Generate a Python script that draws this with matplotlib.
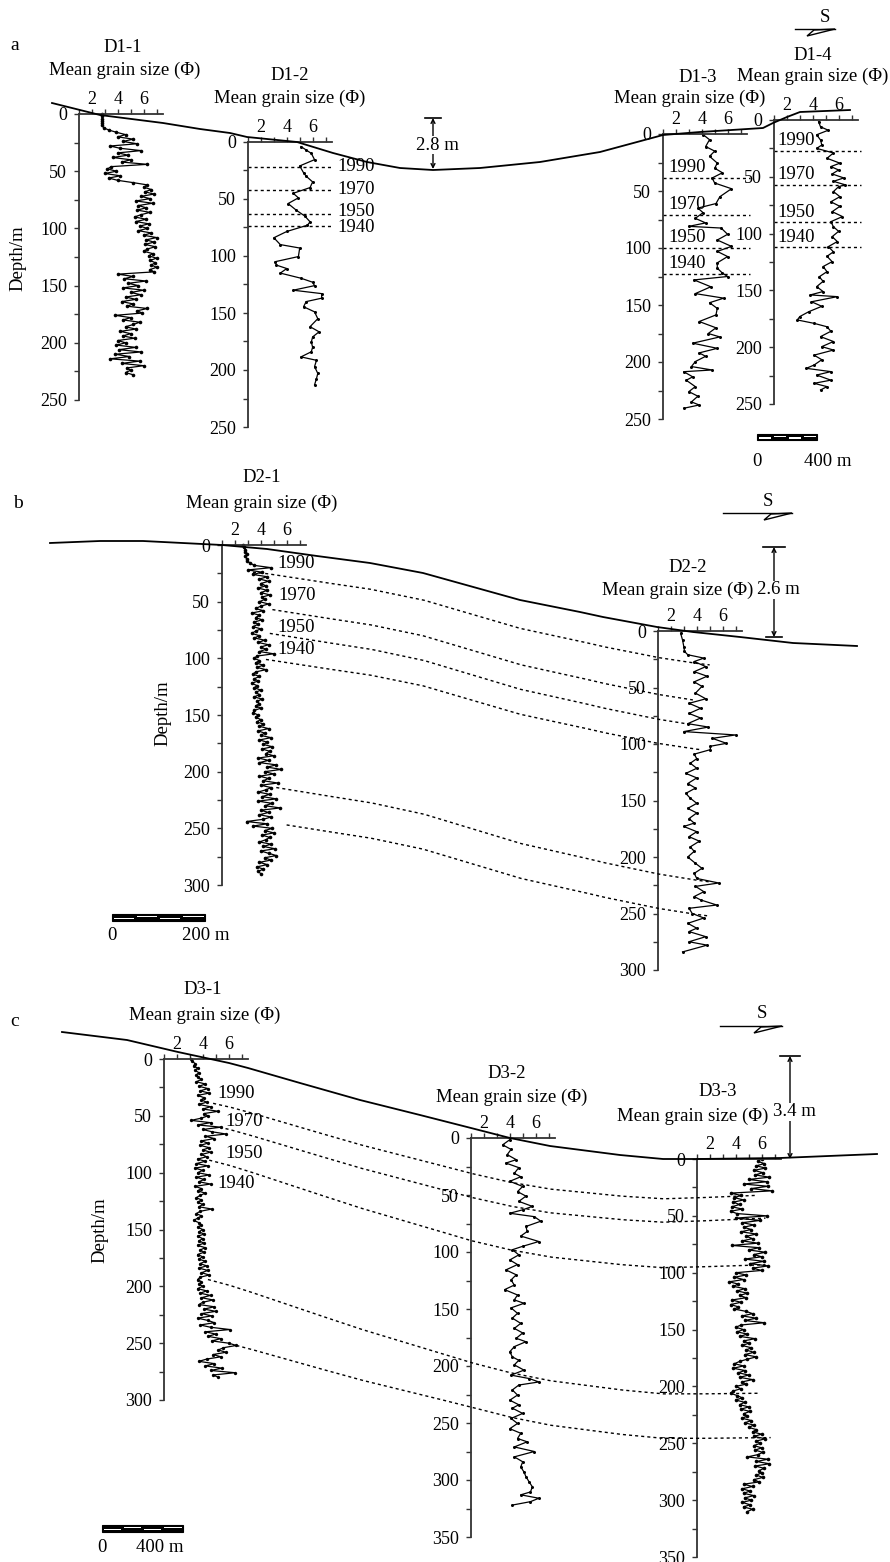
import numpy as np
import matplotlib
matplotlib.use("Agg")
from matplotlib import pyplot as plt
from matplotlib.ticker import MultipleLocator
from matplotlib.patches import Rectangle, Polygon

plt.rcParams['font.family'] = ['Liberation Serif', 'DejaVu Serif']

W, H = 890, 1562
STEP = 2  # sampling interval of the dense cores (depth units)

## mean grain size (phi) of the dense cores, one value every STEP from the top
d1_1_phi = [2.8, 2.8, 2.8, 2.8, 2.8, 2.8, 2.9, 3.3, 3.9, 4.6,
            4.0, 5.2, 4.4, 5.5, 3.4, 4.2, 5.8, 4.0, 4.8, 3.6,
            5.0, 4.3, 6.3, 3.5, 3.2, 3.9, 3.0, 4.2, 3.3, 4.0,
            5.2, 6.3, 6.0, 6.6, 6.1, 6.8, 5.8, 6.5, 5.4, 6.7,
            5.6, 6.2, 5.5, 6.5, 5.8, 5.3, 6.2, 5.4, 6.4, 5.7,
            6.3, 5.6, 6.6, 6.0, 7.0, 6.2, 6.8, 6.1, 6.9, 6.3,
            6.0, 6.7, 6.4, 7.0, 6.5, 6.9, 6.6, 7.0, 6.5, 6.8,
            4.0, 5.2, 4.5, 6.2, 4.8, 5.6, 4.4, 6.0, 5.0, 5.8,
            4.6, 5.4, 4.3, 5.2, 4.7, 6.3, 5.5, 5.9, 3.8, 5.0,
            4.4, 5.7, 5.2, 4.6, 5.4, 4.2, 5.0, 4.4, 5.3, 4.0,
            4.6, 3.9, 5.4, 4.1, 5.8, 3.8, 4.9, 3.4, 5.7, 4.3,
            6.0, 4.7, 5.0, 4.6, 5.2]

d2_1_phi = [2.6, 2.7, 2.8, 2.8, 2.9, 2.8, 2.9, 2.9, 3.2, 3.5,
            4.8, 3.0, 4.1, 3.4, 4.5, 3.9, 4.6, 4.0, 4.4, 3.8,
            4.5, 4.0, 4.7, 4.1, 4.3, 3.9, 4.6, 4.0, 3.6, 4.2,
            3.3, 3.9, 3.6, 4.1, 3.5, 3.8, 3.4, 4.0, 3.6, 3.3,
            3.9, 3.5, 4.3, 3.8, 4.6, 4.0, 4.4, 3.9, 5.0, 3.7,
            3.5, 3.9, 3.6, 4.2, 3.7, 4.4, 3.6, 3.4, 3.9, 3.5,
            3.8, 3.3, 3.7, 3.5, 4.0, 3.6, 3.9, 3.5, 4.1, 3.7,
            3.9, 3.6, 4.0, 3.5, 3.4, 3.8, 3.6, 4.0, 3.7, 4.2,
            3.9, 4.6, 3.8, 4.3, 4.0, 4.8, 3.9, 4.5, 4.2, 4.9,
            4.1, 4.7, 4.4, 5.0, 3.8, 4.6, 3.9, 5.2, 4.5, 5.6,
            4.3, 5.0, 3.9, 4.6, 4.2, 5.3, 4.0, 4.8, 4.4, 3.8,
            4.7, 4.1, 5.2, 3.8, 4.9, 4.3, 5.5, 4.0, 4.6, 3.9,
            4.8, 4.2, 2.9, 4.5, 3.4, 4.9, 4.3, 5.0, 4.1, 4.7,
            4.4, 3.9, 4.8, 4.2, 5.1, 4.0, 4.6, 5.2, 4.3, 4.8,
            3.9, 4.5, 3.7, 4.2, 3.8, 4.0]

d3_1_phi = [3.1, 3.2, 3.4, 3.3, 3.6, 3.4, 3.7, 3.5, 3.6, 3.9,
            3.5, 4.2, 3.7, 4.4, 3.8, 4.5, 3.6, 4.1, 3.9, 4.3,
            3.7, 4.6, 4.0, 5.2, 4.1, 4.4, 3.9, 3.1, 4.6, 3.6,
            5.4, 4.0, 4.7, 5.8, 4.2, 4.9, 3.9, 4.4, 3.8, 4.5,
            4.0, 4.6, 3.9, 4.3, 3.6, 4.2, 3.5, 4.4, 3.4, 4.0,
            3.6, 4.5, 3.5, 4.1, 3.7, 4.6, 3.4, 3.9, 3.6, 4.2,
            3.8, 3.5, 3.9, 3.6, 4.0, 3.7, 4.7, 3.8, 3.5, 3.9,
            3.6, 3.3, 3.7, 3.9, 3.6, 4.0, 3.7, 4.1, 3.6, 4.0,
            3.7, 4.1, 3.6, 4.2, 3.8, 4.1, 3.6, 4.0, 3.7, 4.2,
            3.8, 4.3, 3.7, 4.4, 3.9, 4.5, 3.8, 3.6, 3.9, 3.7,
            4.0, 3.6, 4.3, 3.8, 4.6, 3.9, 4.8, 4.0, 3.7, 4.9,
            4.1, 5.0, 3.9, 4.7, 3.6, 4.4, 4.9, 3.8, 4.6, 6.1,
            4.2, 5.0, 4.4, 5.4, 4.7, 6.0, 6.6, 5.6, 5.2, 5.8,
            4.8, 5.4, 4.3, 3.7, 4.9, 4.2, 5.5, 4.6, 6.5, 4.8,
            5.2]

d3_3_phi = [6.0, 5.7, 6.2, 5.6, 6.3, 5.4, 6.1, 5.5, 6.6, 5.0,
            6.4, 4.6, 6.5, 5.2, 6.8, 3.6, 4.4, 3.9, 4.6, 3.8,
            4.3, 3.7, 4.5, 3.6, 4.1, 6.4, 4.0, 5.9, 4.5, 5.4,
            4.6, 5.2, 4.4, 5.6, 4.8, 5.3, 4.5, 5.7, 3.7, 5.8,
            5.0, 6.3, 5.4, 6.0, 4.7, 6.2, 5.1, 6.5, 5.3, 6.0,
            4.0, 4.8, 3.9, 4.6, 3.5, 4.2, 3.8, 4.7, 4.1, 4.9,
            4.3, 4.8, 3.7, 4.4, 3.6, 4.2, 3.9, 4.8, 5.3, 4.5,
            5.6, 4.7, 6.2, 4.4, 4.0, 4.6, 4.1, 4.9, 4.3, 5.5,
            4.6, 5.0, 4.5, 5.2, 4.8, 5.4, 4.7, 5.6, 4.9, 4.3,
            3.9, 4.6, 3.8, 4.7, 4.2, 5.0, 4.3, 5.3, 4.5, 4.8,
            4.0, 4.4, 3.8, 3.6, 4.1, 4.5, 4.0, 4.7, 4.3, 5.0,
            4.4, 5.1, 4.6, 4.9, 4.5, 5.2, 4.7, 5.4, 5.0, 5.6,
            5.3, 6.0, 5.4, 6.3, 5.6, 5.9, 5.4, 6.0, 5.5, 6.1,
            5.7, 4.9, 6.5, 5.6, 6.6, 5.5, 6.2, 5.8, 6.0, 5.6,
            6.1, 5.4, 5.8, 4.6, 5.3, 4.5, 5.1, 4.6, 5.4, 4.7,
            5.2, 4.5, 5.1, 4.6, 5.3, 4.9]

## sparse cores: depth and mean grain size (phi)
d1_2_depth = [4, 7, 10, 15.5, 21, 27, 30, 35, 40, 45, 49, 54, 59.5, 65, 70, 73,
              78.5, 84, 90, 93, 100.5, 105, 108, 111, 115, 119.5, 123, 126, 130,
              133, 137, 140, 144.5, 149, 155, 162, 166.5, 171, 175.5, 180, 184,
              188.5, 191.5, 197, 203, 207.5, 213]
d1_2_phi = [5.1, 5.5, 5.9, 6.15, 5.0, 5.3, 5.5, 6.0, 5.8, 4.5, 4.9, 4.1, 4.7, 5.4,
            5.8, 5.6, 4.0, 3.0, 3.5, 5.0, 4.9, 3.1, 3.2, 4.0, 3.5, 5.1, 6.0, 6.15,
            4.5, 6.7, 6.7, 5.5, 5.3, 6.15, 6.4, 5.8, 6.5, 6.0, 5.9, 6.0, 5.9, 5.1,
            6.3, 6.15, 6.4, 6.3, 6.15]

d1_3_depth = [0.5, 5, 11, 15, 19.6, 25.5, 30, 34, 38.6, 43, 48, 55, 61, 65, 69, 74,
              78, 81, 82.5, 88, 93, 98.6, 103, 107.5, 113, 117.7, 122, 125, 128,
              134, 140, 144, 148, 153, 158.7, 164.5, 170, 175, 178, 183.5, 188,
              192, 195, 199.6, 204, 207, 208.5, 213, 216, 221.6, 226, 230, 235,
              237.7, 240.6]
d1_3_phi = [4.1, 4.6, 4.3, 5.0, 4.6, 5.2, 5.0, 5.6, 4.8, 5.0, 6.3, 5.4, 5.1, 3.7,
            4.1, 3.5, 4.3, 3.0, 5.5, 6.0, 5.2, 6.3, 5.2, 6.0, 5.2, 5.2, 5.6, 6.0,
            3.4, 4.7, 3.5, 5.7, 4.6, 5.2, 5.1, 3.8, 5.1, 4.5, 5.4, 3.3, 5.2, 3.8,
            4.3, 3.5, 3.2, 4.8, 2.6, 3.3, 2.8, 3.5, 3.0, 3.7, 3.2, 3.8, 2.6]

d1_4_depth = [1.5, 6, 9, 13, 17.6, 22, 25, 29, 33.7, 38, 41, 44, 47.5, 51, 54, 57,
              58.7, 63, 67.5, 72, 76, 80.7, 85, 89.5, 94, 98, 102.7, 107, 111.5,
              116, 120, 124.7, 129, 133.5, 138, 142, 146.7, 151, 154, 155.5, 160,
              164, 168.7, 173, 176, 179, 182, 186, 190.7, 195, 199.5, 202.5, 207,
              211, 215.7, 218.6, 221.5, 224.5, 229, 231.8, 234.7, 237.7]
d1_4_phi = [4.45, 4.6, 5.2, 4.3, 4.6, 4.7, 4.3, 5.6, 5.1, 6.1, 5.4, 6.0, 5.5, 6.4,
            5.6, 6.5, 6.0, 5.6, 6.1, 5.4, 6.1, 5.5, 6.3, 5.4, 5.6, 6.0, 5.5, 5.9,
            5.2, 5.6, 5.1, 5.5, 4.8, 5.1, 4.5, 4.8, 4.3, 4.8, 3.8, 5.9, 3.9, 4.7,
            3.7, 3.0, 2.8, 4.1, 5.1, 5.4, 4.6, 5.6, 4.7, 5.6, 4.1, 4.7, 4.1, 3.5,
            5.4, 4.3, 5.4, 4.1, 5.1, 4.6]

d2_2_depth = [2, 8, 14, 18, 21, 24, 27, 31.5, 36, 40, 45, 49, 55, 60, 64, 68.4, 73,
              77, 82, 85, 89, 92, 95, 99.4, 102, 105, 109, 113, 117, 121.5, 126,
              130, 135, 139, 143.7, 148, 152.5, 157, 161, 166, 170, 173, 177.6,
              182, 186, 191, 195, 200, 205.6, 210, 214.5, 219, 223, 226, 230.7,
              235, 238, 242.5, 245.4, 250, 254, 258.7, 263, 266, 270.5, 275, 278,
              284]
d2_2_phi = [2.75, 2.9, 3.0, 3.05, 3.3, 4.55, 3.8, 4.7, 3.8, 4.8, 3.8, 4.4, 3.9,
            4.7, 3.4, 4.3, 3.4, 4.3, 3.3, 4.9, 3.0, 7.0, 5.2, 6.3, 5.05, 5.05, 3.8,
            4.0, 3.5, 4.0, 3.15, 4.0, 3.3, 3.9, 3.15, 3.5, 4.0, 3.3, 4.0, 3.4, 3.8,
            3.0, 4.0, 3.4, 4.2, 3.5, 3.8, 3.3, 3.9, 4.4, 3.8, 4.0, 5.7, 3.9, 4.55,
            3.8, 4.3, 5.55, 3.4, 3.65, 4.55, 3.3, 4.0, 3.4, 4.7, 3.4, 4.8, 2.9]

d3_2_depth = [1.5, 6, 10, 14.6, 19, 22, 26, 31, 34, 38, 42.5, 47, 51, 55.6, 60, 63,
              66, 69, 73, 77.6, 82, 86, 90.8, 95, 98, 102.5, 107, 111, 115.7, 120,
              124.5, 129, 133, 137.7, 142, 145, 149, 153.8, 158, 162.6, 167, 171,
              175.7, 178.7, 183, 187.5, 192, 195, 199, 203.6, 208, 211, 214, 216.7,
              221, 225.5, 230, 234, 237, 241.6, 246, 250.4, 255, 259, 263.6, 266.5,
              271, 275, 279.7, 284, 288.5, 293, 297, 301.7, 306, 310.5, 313, 316,
              319, 322]
d3_2_phi = [4.0, 3.45, 4.1, 3.8, 4.5, 3.7, 4.7, 4.35, 4.85, 4.0, 5.0, 4.6, 5.25,
            4.7, 5.75, 5.0, 4.0, 5.9, 6.4, 5.25, 5.35, 4.85, 6.25, 5.0, 4.2, 4.7,
            4.0, 4.6, 3.7, 4.5, 4.1, 4.35, 3.6, 4.6, 4.35, 5.1, 4.1, 4.6, 4.2, 4.85,
            4.35, 5.0, 4.5, 5.25, 4.35, 4.0, 4.2, 4.7, 4.35, 5.1, 4.1, 5.5, 6.25,
            4.7, 4.2, 4.6, 4.0, 4.7, 4.2, 5.0, 4.1, 4.6, 4.0, 4.85, 4.6, 5.35, 4.35,
            5.9, 4.35, 5.0, 4.85, 5.1, 5.25, 5.5, 5.75, 5.6, 4.85, 6.25, 5.6, 4.2]

years = ['1990', '1970', '1950', '1940']

## dated horizons (depth in each core)
d1_2_hz = [21.5, 42, 63.5, 73.5]
d1_3_hz = [38.5, 71, 100, 122.5]
d1_4_hz = [27, 57, 90, 112]
# panel b: D2-1 -> D2-2 ; panel c: D3-1 -> D3-2 -> D3-3
d2_1_hz = [24, 57, 78, 101, 214, 247]
d2_2_hz = [30, 61, 83, 105, 222, 252]
d3_1_hz = [39, 60, 89, 194, 252]
d3_2_hz = [31, 52, 90, 197, 236]
d3_3_hz = [32, 52, 93, 206, 245]

## ground surface traces (figure pixels)
surf_a_x = [52, 100, 163, 200, 230, 247, 297, 333, 367, 400, 433, 480, 540, 600,
            663, 700, 763, 773, 787, 800, 850]
surf_a_y = [103, 115, 123, 129, 133, 137, 142, 153, 162, 168, 170, 168, 162, 152,
            135, 132, 128, 123, 117, 112, 110]
surf_b_x = [50, 100, 143, 222, 267, 317, 370, 423, 520, 580, 603, 657, 693, 740,
            793, 857]
surf_b_y = [543, 541, 541, 545, 549, 556, 563, 573, 600, 612, 617, 627, 632, 637,
            643, 646]
surf_c_x = [62, 127, 178, 229, 248, 300, 360, 420, 471, 510, 550, 620, 663, 697,
            780, 877]
surf_c_y = [1032, 1040, 1052, 1063, 1068, 1083, 1100, 1115, 1128, 1138, 1146,
            1155, 1159, 1159, 1158, 1154]

DOT = (0, (2.2, 2.2))
TXT = 13.5


def core_axes(fig, left, top, bottom, ymax, width=84):
    ax = fig.add_axes([left / W, 1 - bottom / H, width / W, (bottom - top) / H])
    ax.set_xlim(1, 7.5)
    ax.set_ylim(ymax, 0)
    ax.patch.set_visible(False)
    ax.spines['right'].set_visible(False)
    ax.spines['bottom'].set_visible(False)
    for s in ['left', 'top']:
        ax.spines[s].set_color('#333333')
        ax.spines[s].set_linewidth(1.3)
    ax.xaxis.tick_top()
    ax.set_xticks([2, 4, 6])
    ax.xaxis.set_minor_locator(MultipleLocator(1))
    ax.yaxis.set_major_locator(MultipleLocator(50))
    ax.yaxis.set_minor_locator(MultipleLocator(25))
    ax.tick_params(which='both', direction='out', length=3.5, width=1,
                   color='#333333', labelsize=13)
    ax.tick_params(axis='y', pad=5)
    ax.tick_params(axis='x', pad=1)
    return ax


def profile(ax, depth, phi, ms):
    ax.plot(phi, depth, color='k', lw=0.9, marker='o', ms=ms, mew=0,
            clip_on=False)


def to_px(ov, ax, x, y):
    return ov.transData.inverted().transform(ax.transData.transform((x, y)))


def horizon(ov, pts, sx, sy):
    pts = np.array(pts)
    off = pts[:, 1] - np.interp(pts[:, 0], sx, sy)
    xs = np.linspace(pts[0, 0], pts[-1, 0], 300)
    ys = np.interp(xs, sx, sy) + np.interp(xs, pts[:, 0], off)
    ov.plot(xs, ys, color='k', lw=1, ls=DOT)


def s_arrow(ov, x0, x1, y, sx, sy):
    ov.plot([x0, x1], [y, y], color='k', lw=1)
    ov.add_patch(Polygon([(x1, y), (x1 - 28, y + 7), (x1 - 21, y + 1)],
                         closed=True, fc='white', ec='k', lw=1))
    ov.text(sx, sy, 'S', ha='center', va='center', fontsize=TXT)


def height_mark(ov, x, y0, y1, label, ty, bars):
    ov.annotate('', xy=(x, y1), xytext=(x, y0),
                arrowprops=dict(arrowstyle='<->', lw=1, shrinkA=0, shrinkB=0,
                                mutation_scale=7))
    for yb, hw in bars:
        ov.plot([x - hw, x + hw], [yb, yb], color='k', lw=1.2)
    ov.text(x + 4, ty, label, ha='center', va='center', fontsize=TXT,
            bbox=dict(fc='white', ec='none', pad=0.5))


def scale_bar(ov, x0, x1, y, h, lab, lab_x, lab_y):
    ov.add_patch(Rectangle((x0, y), x1 - x0, h, fc='k', ec='k', lw=0.8))
    seg = (x1 - x0) / 4
    for i in range(4):
        yy = y + (h * 0.55 if i % 2 == 0 else h * 0.25)
        ov.add_patch(Rectangle((x0 + i * seg + 1.5, yy), seg - 3, h * 0.22,
                               fc='white', ec='none'))
    ov.text(x0, lab_y, '0', ha='center', va='center', fontsize=TXT)
    ov.text(lab_x, lab_y, lab, ha='center', va='center', fontsize=TXT)


fig = plt.figure(figsize=(W / 100, H / 100), dpi=100)

# ---- panel a ----
a1 = core_axes(fig, 79, 114, 400, 250)
a2 = core_axes(fig, 248, 142, 427, 250)
a3 = core_axes(fig, 663, 134, 419, 250)
a4 = core_axes(fig, 774, 120, 404, 250)
profile(a1, np.arange(len(d1_1_phi)) * STEP, d1_1_phi, 2.6)
profile(a2, d1_2_depth, d1_2_phi, 2.2)
profile(a3, d1_3_depth, d1_3_phi, 2.2)
profile(a4, d1_4_depth, d1_4_phi, 2.2)

nudge = [0, 0, -2.5, 1.5]
for d, yr, n in zip(d1_2_hz, years, nudge):
    a2.plot([1, 7.6], [d, d], color='k', lw=1, ls=DOT, clip_on=False)
    a2.text(7.9, d + n, yr, va='center', ha='left', fontsize=TXT)
for ax, hz, lx in [(a3, d1_3_hz, 1.4), (a4, d1_4_hz, 1.3)]:
    for d, yr in zip(hz, years):
        ax.plot([1, 7.7], [d, d], color='k', lw=1, ls=DOT, clip_on=False)
        ax.text(lx, d - 9, yr, va='center', ha='left', fontsize=TXT)

# ---- panel b ----
b1 = core_axes(fig, 222, 545, 885, 300)
b2 = core_axes(fig, 658, 631, 970, 300)
profile(b1, np.arange(len(d2_1_phi)) * STEP, d2_1_phi, 2.6)
profile(b2, d2_2_depth, d2_2_phi, 2.2)

# ---- panel c ----
c1 = core_axes(fig, 164, 1059, 1400, 300)
c2 = core_axes(fig, 471, 1138, 1537, 350)
c3 = core_axes(fig, 697, 1159, 1557, 350)
profile(c1, np.arange(len(d3_1_phi)) * STEP, d3_1_phi, 2.4)
profile(c2, d3_2_depth, d3_2_phi, 2.2)
profile(c3, np.arange(len(d3_3_phi)) * STEP, d3_3_phi, 2.6)

# ---- overlay in figure pixels ----
ov = fig.add_axes([0, 0, 1, 1])
ov.set_xlim(0, W)
ov.set_ylim(H, 0)
ov.axis('off')
ov.patch.set_visible(False)

for sx, sy in [(surf_a_x, surf_a_y), (surf_b_x, surf_b_y), (surf_c_x, surf_c_y)]:
    ov.plot(sx, sy, color='k', lw=1.3)

# correlation lines, start / end grain-size positions along each horizon
b_start = [3.4, 4.9, 4.7, 4.4, 5.2, 6.0]
b_end = [5.0, 3.7, 3.7, 4.3, 5.0, 4.8]
for d0, d1, x0, x1 in zip(d2_1_hz, d2_2_hz, b_start, b_end):
    horizon(ov, [to_px(ov, b1, x0, d0), to_px(ov, b2, x1, d1)], surf_b_x, surf_b_y)

c_start = [4.8, 5.3, 4.5, 4.4, 6.6]
c_end = [5.6, 6.3, 6.3, 5.8, 6.7]
for d0, dm, d1, x0, x1 in zip(d3_1_hz, d3_2_hz, d3_3_hz, c_start, c_end):
    horizon(ov, [to_px(ov, c1, x0, d0), to_px(ov, c2, 1, dm), to_px(ov, c3, x1, d1)],
            surf_c_x, surf_c_y)

# year labels of panels b and c
for yr, (x, y) in zip(years, [(277, 563), (278, 595), (277, 627), (277, 650)]):
    ov.text(x, y, yr, ha='left', va='center', fontsize=TXT)
for yr, (x, y) in zip(years, [(217, 1093), (225, 1122), (225, 1153), (217, 1184)]):
    ov.text(x, y, yr, ha='left', va='center', fontsize=TXT)

# core titles
titles = [('D1-1', 123, 48, 125, 70), ('D1-2', 290, 75, 290, 98),
          ('D1-3', 698, 77, 690, 98), ('D1-4', 813, 55, 813, 76),
          ('D2-1', 262, 478, 262, 503), ('D2-2', 688, 567, 678, 590),
          ('D3-1', 203, 990, 205, 1015), ('D3-2', 507, 1073, 512, 1097),
          ('D3-3', 718, 1092, 693, 1116)]
for name, x0, y0, x1, y1 in titles:
    ov.text(x0, y0, name, ha='center', va='center', fontsize=TXT)
    ov.text(x1, y1, 'Mean grain size (Φ)', ha='center', va='center', fontsize=TXT)

for lab, x, y in [('a', 15, 45), ('b', 18, 503), ('c', 15, 1022)]:
    ov.text(x, y, lab, ha='center', va='center', fontsize=14)
for x, y in [(18, 258), (163, 713), (100, 1230)]:
    ov.text(x, y, 'Depth/m', ha='center', va='center', rotation=90, fontsize=TXT)

s_arrow(ov, 795, 835, 29, 825, 17)
s_arrow(ov, 723, 792, 513, 768, 502)
s_arrow(ov, 720, 782, 1026, 762, 1013)

height_mark(ov, 433, 118, 169, '2.8 m', 145, [(118, 8)])
height_mark(ov, 774, 547, 637, '2.6 m', 590, [(547, 11), (637, 8)])
height_mark(ov, 790, 1056, 1159, '3.4 m', 1112, [(1056, 10)])

scale_bar(ov, 757, 817, 434, 6, '400 m', 828, 462)
scale_bar(ov, 112, 205, 914, 7, '200 m', 206, 936)
scale_bar(ov, 102, 183, 1525, 7, '400 m', 160, 1547)

fig.savefig('out.png', dpi=100)
